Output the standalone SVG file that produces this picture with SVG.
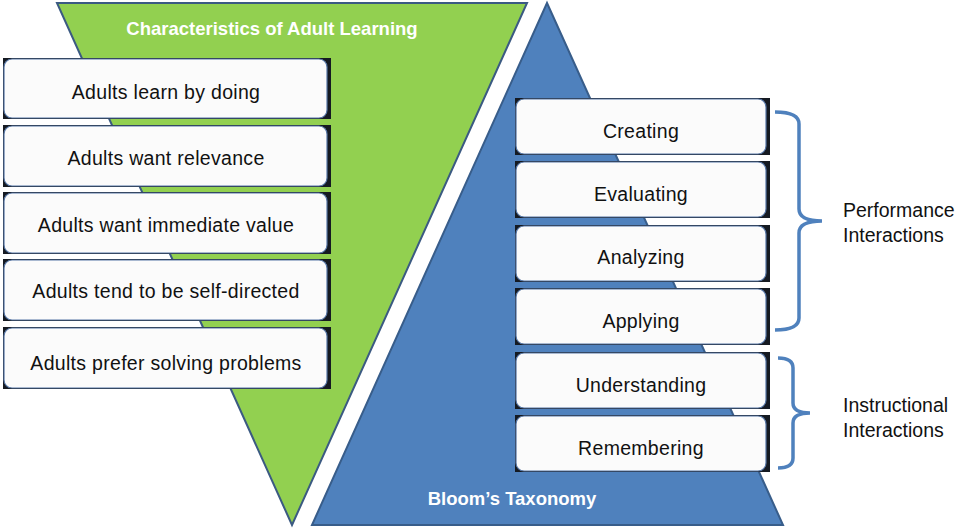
<svg xmlns="http://www.w3.org/2000/svg" width="976" height="529" viewBox="0 0 976 529">
<style>
.tri-g{fill:#92d050;stroke:#3b5a82;stroke-width:2;stroke-linejoin:miter}
.tri-b{fill:#4f81bd;stroke:#385d8a;stroke-width:2}
.sh{fill:#151a22}
.bx{fill:#fbfbfb;stroke:#5676a6;stroke-width:1.2}
.t{font-family:"Liberation Sans",Arial,sans-serif;font-size:19.5px;letter-spacing:0.3px;fill:#111;text-anchor:middle}
.title{font-family:"Liberation Sans",Arial,sans-serif;font-weight:bold;font-size:18.5px;fill:#fff;text-anchor:middle}
.lbl{font-family:"Liberation Sans",Arial,sans-serif;font-size:19.5px;fill:#111}
.brace{fill:none;stroke:#4f81bd;stroke-width:3.5;stroke-linecap:butt}
</style>
<rect width="976" height="529" fill="#fff"/>
<g id="adult-learning-triangle">
<polygon class="tri-g" points="57,3 527,3 292,525"/>
<text class="title" x="272" y="35">Characteristics of Adult Learning</text>
</g>
<g id="blooms-triangle">
<polygon class="tri-b" points="547,3 783,525 312,525"/>
<text class="title" x="512" y="505">Bloom’s Taxonomy</text>
</g>
<g id="adult-1"><rect class="sh" x="3" y="58" width="328" height="61"/><rect class="bx" x="4" y="59" width="323" height="59" rx="8"/><text class="t" x="166" y="99">Adults learn by doing</text></g>
<g id="adult-2"><rect class="sh" x="3" y="125" width="328" height="62"/><rect class="bx" x="4" y="126" width="323" height="60" rx="8"/><text class="t" x="166" y="165">Adults want relevance</text></g>
<g id="adult-3"><rect class="sh" x="3" y="192" width="328" height="62"/><rect class="bx" x="4" y="193" width="323" height="60" rx="8"/><text class="t" x="166" y="232">Adults want immediate value</text></g>
<g id="adult-4"><rect class="sh" x="3" y="259" width="328" height="62"/><rect class="bx" x="4" y="260" width="323" height="60" rx="8"/><text class="t" x="166" y="298">Adults tend to be self-directed</text></g>
<g id="adult-5"><rect class="sh" x="3" y="327" width="328" height="62"/><rect class="bx" x="4" y="328" width="323" height="60" rx="8"/><text class="t" x="166" y="370">Adults prefer solving problems</text></g>
<g id="creating"><rect class="sh" x="515" y="98" width="255" height="57"/><rect class="bx" x="516" y="99" width="250" height="55" rx="8"/><text class="t" x="641" y="138">Creating</text></g>
<g id="evaluating"><rect class="sh" x="515" y="161" width="255" height="57"/><rect class="bx" x="516" y="162" width="250" height="55" rx="8"/><text class="t" x="641" y="201">Evaluating</text></g>
<g id="analyzing"><rect class="sh" x="515" y="225" width="255" height="57"/><rect class="bx" x="516" y="226" width="250" height="55" rx="8"/><text class="t" x="641" y="264">Analyzing</text></g>
<g id="applying"><rect class="sh" x="515" y="288" width="255" height="57"/><rect class="bx" x="516" y="289" width="250" height="55" rx="8"/><text class="t" x="641" y="328">Applying</text></g>
<g id="understanding"><rect class="sh" x="515" y="352" width="255" height="57"/><rect class="bx" x="516" y="353" width="250" height="55" rx="8"/><text class="t" x="641" y="392">Understanding</text></g>
<g id="remembering"><rect class="sh" x="515" y="415" width="255" height="57"/><rect class="bx" x="516" y="416" width="250" height="55" rx="8"/><text class="t" x="641" y="455">Remembering</text></g>
<g id="connectors">
<path class="brace" d="M775,112 Q799,112 799,124 L799,209 Q799,221 822,221 Q799,221 799,233 L799,318 Q799,330 775,330"/>
<path class="brace" d="M778,358 Q793,358 793,368 L793,403 Q793,413 810,413 Q793,413 793,423 L793,458 Q793,468 778,468"/>
</g>
<g id="performance-label"><text class="lbl" x="843" y="217">Performance</text><text class="lbl" x="843" y="242">Interactions</text></g>
<g id="instructional-label"><text class="lbl" x="843" y="412">Instructional</text><text class="lbl" x="843" y="437">Interactions</text></g>
</svg>
